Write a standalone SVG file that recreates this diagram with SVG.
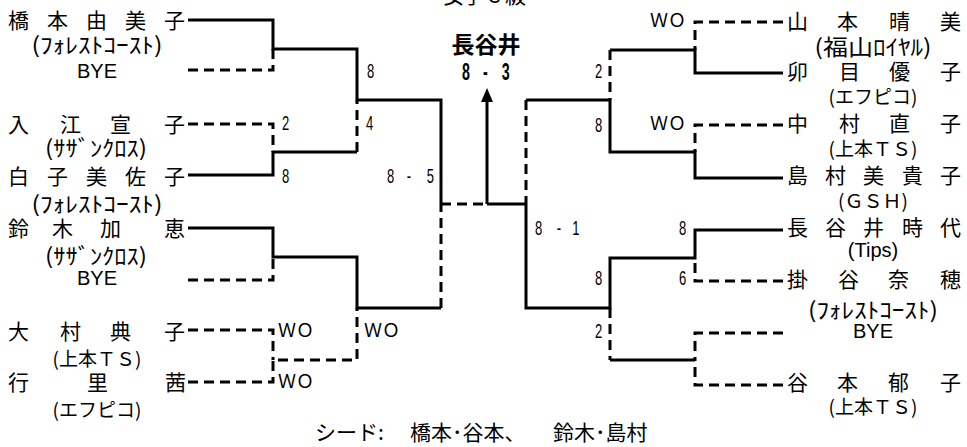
<svg xmlns="http://www.w3.org/2000/svg" width="967" height="447" viewBox="0 0 967 447">
<style>
text { fill: #000; }
.nm { font-family: "Noto Sans CJK JP", sans-serif; font-size: 21px; }
.af { font-family: "Noto Sans CJK JP", sans-serif; font-size: 19px; text-anchor: middle; }
.hw { font-size: 22px; }
.lat { font-family: "Liberation Sans", Arial, sans-serif; font-size: 20px; text-anchor: middle; }
.num { font-family: "Liberation Sans", Arial, sans-serif; font-size: 21px; }
.wo { font-family: "Noto Sans CJK JP", sans-serif; font-size: 18px; }
.s { fill: none; stroke: #000; stroke-width: 3; }
.d { fill: none; stroke: #000; stroke-width: 3; stroke-dasharray: 10 6; }
</style>
<rect width="967" height="447" fill="#fff"/>

<text class="nm" x="443 463 487 505" y="3" font-size="20">女子C級</text>

<g id="connectors">
  <!-- left top quarter -->
  <path class="s" d="M188,20 H273 V49 H357 V100 H441 V204"/>
  <path class="d" d="M188,70 H273 V49"/>
  <path class="d" d="M188,124 H273 V152"/>
  <path class="s" d="M188,175 H273 V152 H357"/>
  <path class="d" d="M357,152 V100"/>
  <!-- left bottom quarter -->
  <path class="s" d="M188,228 H273 V257 H357 V308 H441"/>
  <path class="d" d="M188,280 H273 V257"/>
  <path class="d" d="M441,308 V204"/>
  <path class="d" d="M188,330 H273 V360"/>
  <path class="d" d="M188,382 H273 V360 H357 V308"/>
  <!-- final -->
  <path class="d" d="M441,204 H487"/>
  <path class="s" d="M487,204 H526"/>
  <path class="s" d="M487,204 V100"/>
  <polygon points="487,88 481,102 493,102" fill="#000"/>
  <!-- right top quarter -->
  <path class="d" d="M783,22 H695 V50"/>
  <path class="s" d="M783,73 H695 V50 H610"/>
  <path class="d" d="M610,50 V100"/>
  <path class="s" d="M526,100 H610 V152 H695 V178 H783"/>
  <path class="d" d="M783,125 H695 V152"/>
  <path class="d" d="M526,100 V204"/>
  <!-- right bottom quarter -->
  <path class="s" d="M783,230 H695 V258 H610 V308 H526 V204"/>
  <path class="d" d="M783,281 H695 V258"/>
  <path class="d" d="M610,308 V360"/>
  <path class="s" d="M610,360 H695"/>
  <path class="d" d="M783,333 H695 V360"/>
  <path class="d" d="M783,385 H695 V360"/>
</g>

<g id="score-labels">
  <text class="num" transform="translate(367,78) scale(0.62,1)">8</text>
  <text class="num" transform="translate(282,130) scale(0.62,1)">2</text>
  <text class="num" transform="translate(366,130) scale(0.62,1)">4</text>
  <text class="num" transform="translate(282,183) scale(0.62,1)">8</text>
  <text class="num" transform="translate(387,183) scale(0.62,1)" x="0 32 64">8-5</text>
  <text class="wo" x="278" y="337">ＷＯ</text>
  <text class="wo" x="278" y="388">ＷＯ</text>
  <text class="wo" x="364" y="337">ＷＯ</text>
  <text class="num" transform="translate(595,78) scale(0.62,1)">2</text>
  <text class="num" transform="translate(595,132) scale(0.62,1)">8</text>
  <text class="num" transform="translate(535,235) scale(0.62,1)" x="0 35 60">8-1</text>
  <text class="num" transform="translate(679,235) scale(0.62,1)">8</text>
  <text class="num" transform="translate(679,285) scale(0.62,1)">6</text>
  <text class="num" transform="translate(595,285) scale(0.62,1)">8</text>
  <text class="num" transform="translate(595,338) scale(0.62,1)">2</text>
  <text class="wo" x="650" y="27">ＷＯ</text>
  <text class="wo" x="650" y="130">ＷＯ</text>
</g>

<g id="champion">
  <text x="486" y="53" text-anchor="middle" font-family="'Noto Sans CJK JP', sans-serif" font-weight="700" font-size="23">長谷井</text>
  <text transform="translate(462,80) scale(0.62,1)" x="0 34 64" font-family="'Liberation Sans', Arial, sans-serif" font-weight="700" font-size="23">8-3</text>
</g>

<!-- left players -->
<g id="p-hashimoto">
  <text class="nm" x="8 47 86 125 164" y="28">橋本由美子</text>
  <text class="af hw" x="97" y="53" textLength="131" lengthAdjust="spacingAndGlyphs">(ﾌｫﾚｽﾄｺｰｽﾄ)</text>
</g>
<g id="p-bye1"><text class="lat" x="97" y="78">BYE</text></g>
<g id="p-irie">
  <text class="nm" x="8 60 110 164" y="132">入江宣子</text>
  <text class="af hw" x="96" y="156" textLength="102" lengthAdjust="spacingAndGlyphs">(ｻｻﾞﾝｸﾛｽ)</text>
</g>
<g id="p-shirako">
  <text class="nm" x="8 47 86 125 164" y="184">白子美佐子</text>
  <text class="af hw" x="97" y="212" textLength="131" lengthAdjust="spacingAndGlyphs">(ﾌｫﾚｽﾄｺｰｽﾄ)</text>
</g>
<g id="p-suzuki">
  <text class="nm" x="8 52 100 164" y="236">鈴木加恵</text>
  <text class="af hw" x="96" y="264" textLength="102" lengthAdjust="spacingAndGlyphs">(ｻｻﾞﾝｸﾛｽ)</text>
</g>
<g id="p-bye2"><text class="lat" x="97" y="285">BYE</text></g>
<g id="p-omura">
  <text class="nm" x="8 60 110 164" y="339">大村典子</text>
  <text class="af" x="97" y="366">(上本ＴＳ)</text>
</g>
<g id="p-yukisato">
  <text class="nm" x="8 87 165" y="390">行里茜</text>
  <text class="af" x="97" y="417">(エフピコ)</text>
</g>

<!-- right players -->
<g id="p-yamamoto">
  <text class="nm" x="787 837 889 940" y="29">山本晴美</text>
  <text class="af hw" x="873" y="55" textLength="117" lengthAdjust="spacingAndGlyphs">(福山ﾛｲﾔﾙ)</text>
</g>
<g id="p-u">
  <text class="nm" x="787 839 889 940" y="79">卯目優子</text>
  <text class="af" x="873" y="104">(エフピコ)</text>
</g>
<g id="p-nakamura">
  <text class="nm" x="787 839 889 940" y="131">中村直子</text>
  <text class="af" x="873" y="156">(上本ＴＳ)</text>
</g>
<g id="p-shimamura">
  <text class="nm" x="787 825 863 902 940" y="183">島村美貴子</text>
  <text class="af" x="873" y="208">(ＧＳＨ)</text>
</g>
<g id="p-hasei">
  <text class="nm" x="787 825 863 902 940" y="235">長谷井時代</text>
  <text class="lat" x="873" y="257">(Tips)</text>
</g>
<g id="p-kakeya">
  <text class="nm" x="787 838 888 940" y="287">掛谷奈穂</text>
  <text class="af hw" x="873" y="318" textLength="130" lengthAdjust="spacingAndGlyphs">(ﾌｫﾚｽﾄｺｰｽﾄ)</text>
</g>
<g id="p-bye3"><text class="lat" x="873" y="338">BYE</text></g>
<g id="p-tanimoto">
  <text class="nm" x="787 837 888 940" y="390">谷本郁子</text>
  <text class="af" x="873" y="414">(上本ＴＳ)</text>
</g>

<g id="seeds">
  <text class="nm" font-size="20" y="440"><tspan x="315">シード:</tspan><tspan x="410">橋本･谷本、</tspan><tspan x="553">鈴木･島村</tspan></text>
</g>
</svg>
